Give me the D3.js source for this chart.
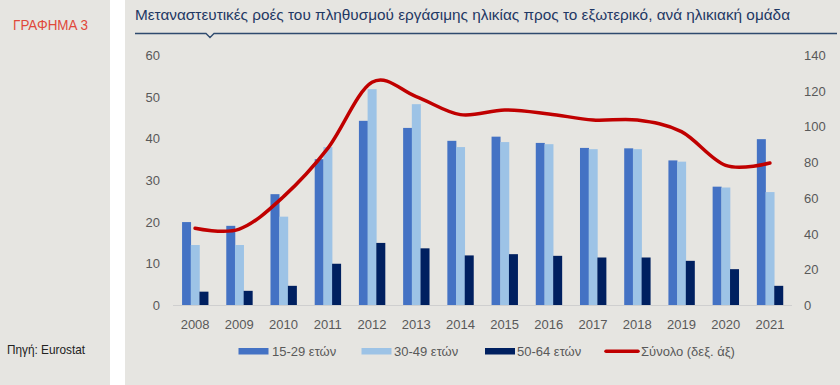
<!DOCTYPE html>
<html><head><meta charset="utf-8">
<script src="https://cdn.jsdelivr.net/npm/d3@7"></script>
<style>
html,body{margin:0;padding:0;background:#fff;}
svg{display:block;}
text{font-family:"Liberation Sans",Arial,sans-serif;}
</style></head>
<body>
<svg id="chart" width="840" height="385"></svg>
<script>
const years = ["2008","2009","2010","2011","2012","2013","2014","2015","2016","2017","2018","2019","2020","2021"];
const age15_29 = [19.9,19.0,26.6,35.0,44.2,42.5,39.4,40.4,38.9,37.7,37.6,34.7,28.4,39.8];
const age30_49 = [14.4,14.4,21.2,37.9,51.8,48.2,37.9,39.1,38.6,37.4,37.4,34.4,28.2,27.1];
const age50_64 = [3.2,3.4,4.6,9.9,14.9,13.6,11.9,12.2,11.8,11.4,11.4,10.6,8.6,4.6];
const total = [43.0,42.5,60.7,87.7,124.7,116.7,106.6,109.2,107.0,103.6,103.6,97.1,78.2,79.5];
const leftTicks = [0,10,20,30,40,50,60];
const rightTicks = [0,20,40,60,80,100,120,140];
const seriesNames = ["15-29 ετών","30-49 ετών","50-64 ετών","Σύνολο (δεξ. άξ)"];
const colors = ["#4472C4","#9DC3E6","#002060","#C00000"];

const svg = d3.select("#chart");
// panels
svg.append("rect").attr("x",0).attr("y",0).attr("width",110).attr("height",385).attr("fill","#E6E5E1");
svg.append("rect").attr("x",125).attr("y",0).attr("width",715).attr("height",385).attr("fill","#E6E5E1");

svg.append("text").attr("x",13).attr("y",30).attr("fill","#E0483A").attr("font-size",14)
  .attr("textLength",75).attr("lengthAdjust","spacingAndGlyphs").text("ΓΡΑΦΗΜΑ 3");
svg.append("text").attr("x",7).attr("y",354).attr("fill","#222").attr("font-size",13.5)
  .attr("textLength",78).attr("lengthAdjust","spacingAndGlyphs").text("Πηγή: Eurostat");

// title
svg.append("text").attr("x",135).attr("y",20).attr("fill","#1F3864").attr("font-size",14.5)
  .attr("textLength",655).attr("lengthAdjust","spacingAndGlyphs")
  .text("Μεταναστευτικές ροές του πληθυσμού εργάσιμης ηλικίας προς το εξωτερικό, ανά ηλικιακή ομάδα");
svg.append("path").attr("d","M135,33.5 H206 L210,37.5 L214,33.5 H837").attr("fill","none")
  .attr("stroke","#2E4A6E").attr("stroke-width",1.3);

const x0 = d3.scaleBand().domain(years).range([173,792]).paddingInner(0.41).paddingOuter(0.205);
const x1 = d3.scaleBand().domain([0,1,2]).range([0,x0.bandwidth()]);
const yL = d3.scaleLinear().domain([0,60]).range([305,55]);
const yR = d3.scaleLinear().domain([0,140]).range([305,55]);

const bars = [age15_29, age30_49, age50_64];
const g = svg.append("g");
bars.forEach((arr,si)=>{
  g.selectAll(".b"+si).data(arr).enter().append("rect")
    .attr("x",(d,i)=>x0(years[i])+x1(si))
    .attr("y",d=>yL(d))
    .attr("width",x1.bandwidth()+0.3)
    .attr("height",d=>yL(0)-yL(d))
    .attr("fill",colors[si]);
});

// baseline
svg.append("line").attr("x1",173).attr("x2",792).attr("y1",305.5).attr("y2",305.5)
  .attr("stroke","#CFCFCF").attr("stroke-width",1);

// axes
const axL = d3.axisLeft(yL).tickValues(leftTicks).tickSize(0).tickPadding(0);
const gL = svg.append("g").attr("transform","translate(160,0)").call(axL);
const axR = d3.axisRight(yR).tickValues(rightTicks).tickSize(0).tickPadding(0);
const gR = svg.append("g").attr("transform","translate(804,0)").call(axR);
const axB = d3.axisBottom(x0).tickSize(0).tickPadding(0);
const gB = svg.append("g").attr("transform","translate(0,329)").call(axB);
[gL,gR,gB].forEach(a=>{
  a.select(".domain").remove();
  a.selectAll("text").attr("font-family","Liberation Sans, Arial, sans-serif").attr("font-size",13).attr("fill","#595959");
});
gL.selectAll("text").attr("text-anchor","end").attr("dy","0.35em");
gR.selectAll("text").attr("text-anchor","start").attr("dy","0.35em");
gB.selectAll("text").attr("dy",0);

// total line
const line = d3.line().x((d,i)=>x0(years[i])+x0.bandwidth()/2).y(d=>yR(d)).curve(d3.curveCardinal.tension(0));
svg.append("path").datum(total).attr("d",line).attr("fill","none").attr("stroke",colors[3])
  .attr("stroke-width",3.5).attr("stroke-linejoin","round").attr("stroke-linecap","round");

// legend
const leg = [
  {x:238.5,tx:272},
  {x:361.5,tx:394},
  {x:485,tx:517},
  {x:606,tx:641}
];
leg.forEach((l,i)=>{
  if(i<3){
    svg.append("rect").attr("x",l.x).attr("y",348).attr("width",30).attr("height",6.5).attr("fill",colors[i]);
  } else {
    svg.append("line").attr("x1",l.x).attr("x2",l.x+32).attr("y1",351.3).attr("y2",351.3)
      .attr("stroke",colors[3]).attr("stroke-width",3.5).attr("stroke-linecap","round");
  }
  svg.append("text").attr("x",l.tx).attr("y",356).attr("font-size",13).attr("fill","#595959").text(seriesNames[i]);
});
</script>
</body></html>
